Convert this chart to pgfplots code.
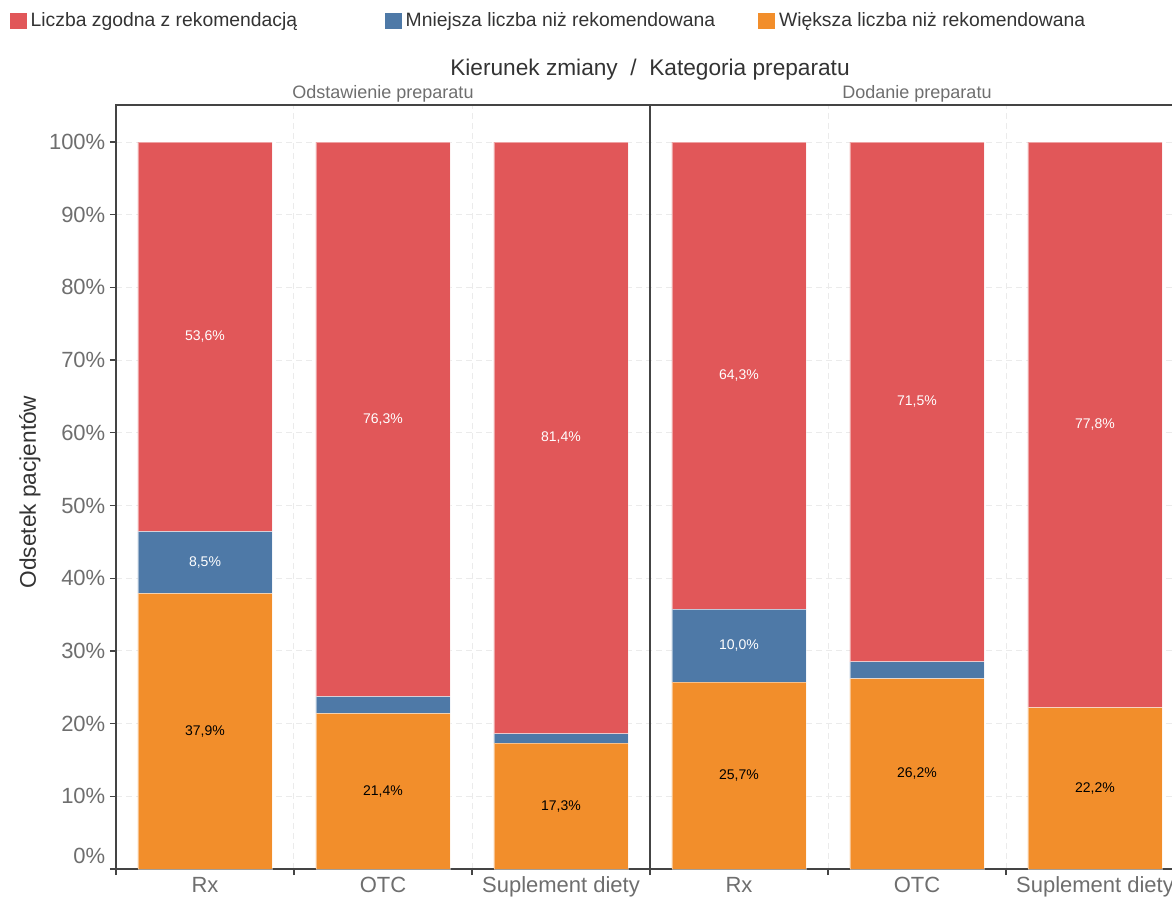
\documentclass[border=0pt]{standalone}
\usepackage{pgfplots}
\pgfplotsset{compat=1.18}
\usepackage{fontspec}
\setmainfont{Liberation Sans}
\definecolor{cred}{HTML}{E15759}
\definecolor{cblue}{HTML}{4E79A7}
\definecolor{corange}{HTML}{F28E2B}
\definecolor{txt}{HTML}{333333}
\definecolor{ticktxt}{HTML}{6E6E6E}
\definecolor{gridc}{HTML}{EBEBEB}
\definecolor{framec}{HTML}{444444}
\begin{document}
\begin{tikzpicture}[x=0.75pt,y=0.75pt]
\path[use as bounding box] (0,0) rectangle (1172,897);
\begin{axis}[
  at={(87pt,21pt)}, anchor=south west,
  scale only axis, width=801pt, height=573pt,
  xmin=0, xmax=6, ymin=0, ymax=105.09,
  ybar stacked, bar width=0.753,
  xtick pos=bottom, ytick pos=left,
  xtick={0,1,2,3,4,5,6}, xticklabels={},
  extra x ticks={0.5,1.5,2.5,3.5,4.5,5.5},
  extra x tick labels={Rx,OTC,Suplement diety,Rx,OTC,Suplement diety},
  extra x tick style={major tick length=0pt, xmajorgrids=false, xticklabel style={yshift=-2.5pt}},
  ytick={10,20,30,40,50,60,70,80,90,100},
  yticklabels={10\%,20\%,30\%,40\%,50\%,60\%,70\%,80\%,90\%,100\%},
  extra y ticks={0}, extra y tick labels={0\%},
  extra y tick style={ymajorgrids=false, yticklabel style={yshift=10pt}},
  ymajorgrids, xmajorgrids,
  major grid style={gridc, dash pattern=on 4.5pt off 3pt, line width=0.75pt},
  tick align=outside, major tick length=4.5pt,
  tick style={framec, line width=1pt},
  axis line style={framec, line width=1.1pt},
  tick label style={font=\fontsize{16.5}{18}\selectfont, text=ticktxt},
]
\addplot[fill=corange, draw=white, draw opacity=0.45, line width=0.5pt] coordinates {(0.5,37.9) (1.5,21.4) (2.5,17.3) (3.5,25.7) (4.5,26.2) (5.5,22.2)};
\addplot[fill=cblue, draw=white, draw opacity=0.45, line width=0.5pt] coordinates {(0.5,8.5) (1.5,2.3) (2.5,1.3) (3.5,10.0) (4.5,2.3) (5.5,0.0)};
\addplot[fill=cred, draw=white, draw opacity=0.45, line width=0.5pt] coordinates {(0.5,53.6) (1.5,76.3) (2.5,81.4) (3.5,64.3) (4.5,71.5) (5.5,77.8)};
\draw[framec, line width=1.1pt] (axis cs:3,0) -- (axis cs:3,105.09);
\draw[framec, line width=1.1pt] (rel axis cs:0,0) -- (rel axis cs:1,0);
\end{axis}
\begin{axis}[
  at={(87pt,21pt)}, anchor=south west,
  scale only axis, width=801pt, height=573pt,
  xmin=0, xmax=6, ymin=0, ymax=105.09,
  hide axis, clip=false,
  legend columns=3,
  legend image code/.code={\fill[#1, draw=none] (0pt,-6.25pt) rectangle (12.5pt,6.25pt);},
  legend style={at={(axis description cs:-0.09925,1.10995)}, anchor=west,
    draw=none, fill=none, inner sep=0pt, outer sep=0pt,
    nodes={inner sep=0pt, outer sep=0pt},
    font=\fontsize{14.5}{17}\selectfont, text=txt,
    /tikz/every odd column/.style={column sep=3pt},
    /tikz/every even column/.style={column sep=2.5pt}},
]
\addlegendimage{fill=cred}
\addlegendentry{\makebox[263.25pt][l]{Liczba zgodna z rekomendacją}}
\addlegendimage{fill=cblue}
\addlegendentry{\makebox[262pt][l]{Mniejsza liczba niż rekomendowana}}
\addlegendimage{fill=corange}
\addlegendentry{Większa liczba niż rekomendowana}
\addplot[draw=none, forget plot, point meta=explicit symbolic,
  nodes near coords={\pgfplotspointmeta},
  every node near coord/.append style={anchor=center, font=\fontsize{10.5}{12}\selectfont, text=black}]
  coordinates {(0.5,18.95) [37,9\%] (1.5,10.7) [21,4\%] (2.5,8.65) [17,3\%]
               (3.5,12.85) [25,7\%] (4.5,13.1) [26,2\%] (5.5,11.1) [22,2\%]};
\addplot[draw=none, forget plot, point meta=explicit symbolic,
  nodes near coords={\pgfplotspointmeta},
  every node near coord/.append style={anchor=center, font=\fontsize{10.5}{12}\selectfont, text=white}]
  coordinates {(0.5,42.15) [8,5\%] (3.5,30.7) [10,0\%]
               (0.5,73.2) [53,6\%] (1.5,61.85) [76,3\%] (2.5,59.3) [81,4\%]
               (3.5,67.85) [64,3\%] (4.5,64.25) [71,5\%] (5.5,61.1) [77,8\%]};
\end{axis}
\node[font=\fontsize{17}{20}\selectfont, text=txt] at (650,827) {Kierunek zmiany~~/~~Kategoria preparatu};
\node[font=\fontsize{13.5}{16}\selectfont, text=ticktxt] at (383,803) {Odstawienie preparatu};
\node[font=\fontsize{13.5}{16}\selectfont, text=ticktxt] at (917,803) {Dodanie preparatu};
\node[rotate=90, font=\fontsize{17}{20}\selectfont, text=txt] at (30,405) {Odsetek pacjentów};
\end{tikzpicture}
\end{document}
